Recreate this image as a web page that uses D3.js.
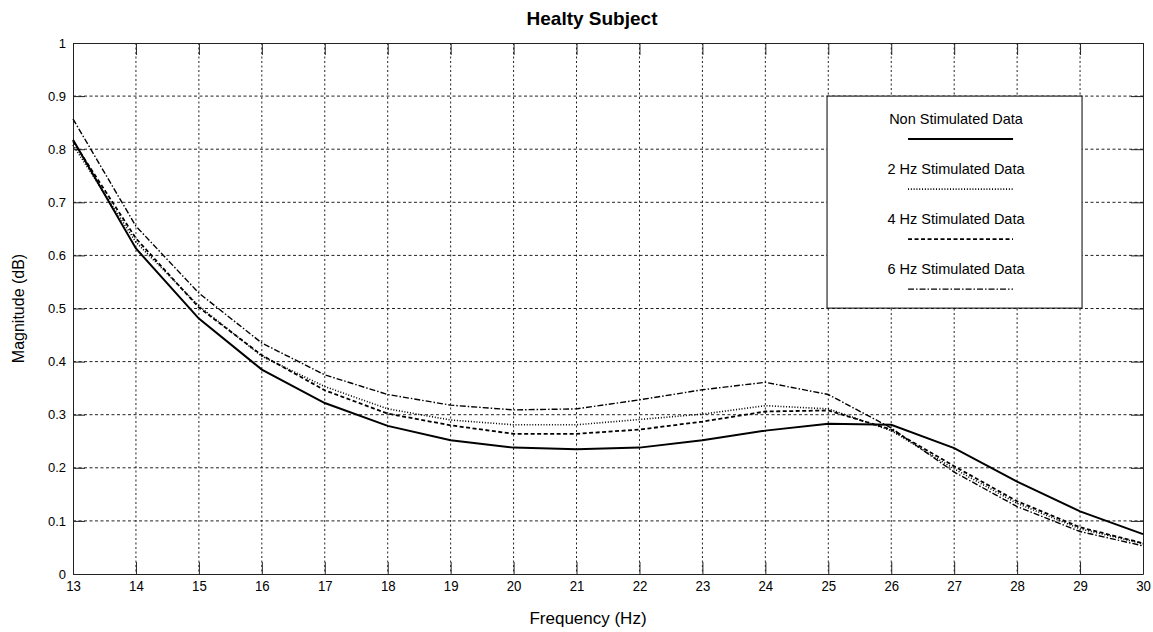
<!DOCTYPE html>
<html>
<head>
<meta charset="utf-8">
<script src="https://cdn.jsdelivr.net/npm/d3@7"></script>
<style>
  body { margin: 0; background: #fff; }
  text { font-family: "Liberation Sans", Arial, sans-serif; fill: #000; }
</style>
</head>
<body>
<svg width="1153" height="632"></svg>
<script>
// values, one per integer frequency
var freqs = [13, 14, 15, 16, 17, 18, 19, 20, 21, 22, 23, 24, 25, 26, 27, 28, 29, 30];
var nonStim = [0.818, 0.613, 0.481, 0.385, 0.322, 0.279, 0.252, 0.238, 0.235, 0.238, 0.252, 0.270, 0.283, 0.281, 0.237, 0.174, 0.118, 0.075];
var stim2 = [0.808, 0.625, 0.505, 0.410, 0.353, 0.311, 0.290, 0.281, 0.281, 0.291, 0.301, 0.317, 0.311, 0.270, 0.198, 0.133, 0.085, 0.057];
var stim4 = [0.815, 0.632, 0.502, 0.412, 0.346, 0.302, 0.280, 0.264, 0.264, 0.272, 0.287, 0.306, 0.308, 0.272, 0.203, 0.137, 0.088, 0.058];
var stim6 = [0.857, 0.655, 0.529, 0.435, 0.375, 0.338, 0.318, 0.309, 0.311, 0.328, 0.347, 0.361, 0.338, 0.275, 0.192, 0.127, 0.080, 0.053];
var seriesNames = ["Non Stimulated Data", "2 Hz Stimulated Data", "4 Hz Stimulated Data", "6 Hz Stimulated Data"];
var yTicks = [0, 0.1, 0.2, 0.3, 0.4, 0.5, 0.6, 0.7, 0.8, 0.9, 1];

var series = [nonStim, stim2, stim4, stim6].map(function (vals, i) {
    return { name: seriesNames[i], values: vals };
});

// line styles, same order as the series
var dashes = [null, "1,1.8", "4,2.5", "6,2,1.5,2"];
var widths = [2, 1.6, 1.8, 1.4];

var svg = d3.select("svg"),
    margin = { top: 43, right: 10, bottom: 58, left: 73 },
    width = +svg.attr("width") - margin.left - margin.right,
    height = +svg.attr("height") - margin.top - margin.bottom;

var g = svg.append("g").attr("transform", "translate(" + margin.left + "," + margin.top + ")");

var x = d3.scaleLinear().domain([13, 30]).range([0, width]);
var y = d3.scaleLinear().domain([0, 1]).range([height, 0]);

// dotted grid
g.append("g").selectAll("line")
    .data(freqs.slice(1, -1))
    .enter().append("line")
    .attr("x1", function (d) { return x(d); })
    .attr("x2", function (d) { return x(d); })
    .attr("y1", 0).attr("y2", height)
    .attr("stroke", "#222").attr("stroke-dasharray", "2,2.5");

g.append("g").selectAll("line")
    .data(yTicks.slice(1, -1))
    .enter().append("line")
    .attr("y1", function (d) { return y(d); })
    .attr("y2", function (d) { return y(d); })
    .attr("x1", 0).attr("x2", width)
    .attr("stroke", "#222").attr("stroke-dasharray", "3,2.5");

// axes with inward ticks on all four sides
var tickLen = 12;

var xAxis = g.append("g")
    .attr("transform", "translate(0," + height + ")")
    .call(d3.axisBottom(x).tickValues(freqs).tickFormat(d3.format("d"))
        .tickSize(-tickLen).tickSizeOuter(0).tickPadding(6));
xAxis.selectAll("text").attr("font-size", 15).attr("fill", "#000")
    .attr("transform", "scale(0.88,1)");

var yAxis = g.append("g")
    .call(d3.axisLeft(y).tickValues(yTicks).tickFormat(function (d) { return d; })
        .tickSize(-tickLen).tickSizeOuter(0).tickPadding(7));
yAxis.selectAll("text").attr("font-size", 13).attr("fill", "#000");

g.append("g")
    .call(d3.axisTop(x).tickValues(freqs).tickFormat("").tickSize(-tickLen).tickSizeOuter(0));
g.append("g")
    .attr("transform", "translate(" + width + ",0)")
    .call(d3.axisRight(y).tickValues(yTicks).tickFormat("").tickSize(-tickLen).tickSizeOuter(0));

g.selectAll(".domain, .tick line").attr("stroke", "#222");

// the data lines
var line = d3.line()
    .x(function (d, i) { return x(freqs[i]); })
    .y(function (d) { return y(d); });

g.append("g").selectAll("path")
    .data(series)
    .enter().append("path")
    .attr("d", function (d) { return line(d.values); })
    .attr("fill", "none")
    .attr("stroke", "#000")
    .attr("stroke-width", function (d, i) { return widths[i]; })
    .attr("stroke-dasharray", function (d, i) { return dashes[i]; });

// legend
var legend = g.append("g").attr("transform", "translate(" + x(24.98) + "," + y(0.9) + ")");
legend.append("rect")
    .attr("width", 255).attr("height", 212)
    .attr("fill", "#fff").attr("stroke", "#000");

var item = legend.selectAll(".item")
    .data(series)
    .enter().append("g")
    .attr("class", "item")
    .attr("transform", function (d, i) { return "translate(0," + (i * 50) + ")"; });

item.append("text")
    .attr("x", 129).attr("y", 28)
    .attr("text-anchor", "middle")
    .attr("font-size", 14.5)
    .text(function (d) { return d.name; });

item.append("line")
    .attr("x1", 81).attr("x2", 186)
    .attr("y1", 43).attr("y2", 43)
    .attr("stroke", "#000")
    .attr("stroke-width", function (d, i) { return widths[i]; })
    .attr("stroke-dasharray", function (d, i) { return dashes[i]; });

// title and axis labels
svg.append("text")
    .attr("x", 592).attr("y", 25)
    .attr("text-anchor", "middle")
    .attr("font-size", 19).attr("font-weight", "bold")
    .text("Healty Subject");

svg.append("text")
    .attr("x", 588).attr("y", 624)
    .attr("text-anchor", "middle")
    .attr("font-size", 17)
    .text("Frequency (Hz)");

svg.append("text")
    .attr("transform", "translate(24," + (margin.top + height / 2) + ") rotate(-90)")
    .attr("text-anchor", "middle")
    .attr("font-size", 16)
    .text("Magnitude (dB)");
</script>
</body>
</html>
